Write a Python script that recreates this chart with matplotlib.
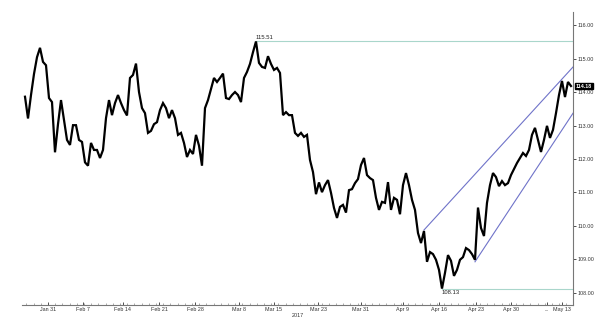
import numpy as np
import matplotlib
matplotlib.use("Agg")
import matplotlib.pyplot as plt
from matplotlib.ticker import FixedLocator, FuncFormatter

# ---- data (USD/JPY-style price, sampled ~10 trading hours apart) ----
prices = [
    113.86, 113.21, 113.91, 114.54, 115.04, 115.32, 114.90, 114.80, 113.82, 113.70,
    112.20, 113.04, 113.76, 113.16, 112.57, 112.42, 113.01, 113.01, 112.57, 112.51,
    111.90, 111.80, 112.48, 112.27, 112.27, 112.03, 112.27, 113.22, 113.76, 113.31,
    113.67, 113.91, 113.67, 113.46, 113.30, 114.42, 114.51, 114.85, 114.00, 113.52,
    113.37, 112.78, 112.84, 113.04, 113.10, 113.46, 113.67, 113.52, 113.22, 113.46,
    113.22, 112.72, 112.78, 112.48, 112.06, 112.27, 112.15, 112.72, 112.40, 111.80,
    113.52, 113.76, 114.09, 114.42, 114.30, 114.42, 114.55, 113.82, 113.79, 113.91,
    114.00, 113.91, 113.70, 114.42, 114.60, 114.84, 115.19, 115.51, 114.87, 114.75,
    114.72, 115.07, 114.84, 114.66, 114.72, 114.57, 113.31, 113.40, 113.31, 113.31,
    112.78, 112.69, 112.78, 112.66, 112.72, 111.97, 111.61, 110.95, 111.30, 111.01,
    111.22, 111.37, 110.99, 110.54, 110.24, 110.57, 110.63, 110.40, 111.07, 111.10,
    111.28, 111.40, 111.82, 112.03, 111.52, 111.43, 111.37, 110.84, 110.48, 110.72,
    110.69, 111.31, 110.48, 110.84, 110.78, 110.35, 111.22, 111.58, 111.22, 110.78,
    110.48, 109.79, 109.49, 109.85, 108.93, 109.22, 109.16, 108.99, 108.69, 108.13,
    108.60, 109.13, 108.96, 108.51, 108.69, 108.99, 109.07, 109.34, 109.28, 109.16,
    108.99, 110.55, 109.94, 109.70, 110.69, 111.22, 111.58, 111.46, 111.19, 111.34,
    111.22, 111.28, 111.52, 111.70, 111.88, 112.03, 112.18, 112.09, 112.27, 112.72,
    112.93, 112.57, 112.21, 112.57, 112.99, 112.63, 112.87, 113.37, 113.91, 114.33,
    113.85, 114.30, 114.18,
]

tick_labels = ["Jan 31", "Feb 7", "Feb 14", "Feb 21", "Feb 28", "Mar 8", "Mar 15",
               "Mar 23", "Mar 31", "Apr 9", "Apr 16", "Apr 23", "Apr 30", "...", "May 13"]
tick_pos = [7.67, 19.4, 32.6, 44.7, 56.7, 71.2, 83.0,
            97.7, 112.0, 126.0, 138.0, 150.3, 162.0, 174.0, 179.0]

high_value = 115.51
high_index = 77
low_value = 108.13
low_index = 139

upper_channel_x = [133, 182.7]
upper_channel_y = [109.88, 114.75]
lower_channel_x = [150, 182.7]
lower_channel_y = [108.93, 113.37]

last_price = 114.18
y_ticks = [108, 109, 110, 111, 112, 113, 114, 115, 116]

# ---- figure ----
plt.rcParams["font.family"] = ["Liberation Sans", "DejaVu Sans"]
fig = plt.figure(figsize=(6.0, 3.31), dpi=100)
ax = fig.add_axes([22 / 600, 26 / 331, 551 / 600, 293 / 331])

x = np.arange(len(prices))
ax.plot(x, prices, color="black", lw=1.6, solid_joinstyle="miter", zorder=3)

xmax = 182.67
ax.set_xlim(-1, xmax)
ax.set_ylim(107.64, 116.39)

# horizontal reference lines
hcol = "#a9d6cb"
ax.plot([high_index, xmax], [high_value, high_value], color=hcol, lw=0.8, zorder=2)
ax.plot([low_index, xmax], [low_value, low_value], color=hcol, lw=0.8, zorder=2)
ax.text(high_index, high_value + 0.04, f"{high_value:.2f}", fontsize=4.2,
        ha="left", va="bottom", color="#222222")
ax.text(low_index, low_value - 0.05, f"{low_value:.2f}", fontsize=4.2,
        ha="left", va="top", color="#222222")

# channel lines
ccol = "#6f73c9"
ax.plot(upper_channel_x, upper_channel_y, color=ccol, lw=0.8, zorder=2)
ax.plot(lower_channel_x, lower_channel_y, color=ccol, lw=0.8, zorder=2)

# spines
for s in ["top", "left"]:
    ax.spines[s].set_visible(False)
for s in ["right", "bottom"]:
    ax.spines[s].set_color("#777777")
    ax.spines[s].set_linewidth(0.8)

# y axis on right
ax.yaxis.tick_right()
ax.set_yticks(y_ticks)
ax.yaxis.set_major_formatter(FuncFormatter(lambda v, p: f"{v:.2f}"))
ax.tick_params(axis="y", which="major", length=2, width=0.6, pad=1,
               labelsize=3.9, colors="#333333")

# x axis
ax.xaxis.set_major_locator(FixedLocator(tick_pos))
ax.set_xticklabels(tick_labels)
ax.xaxis.set_minor_locator(FixedLocator(np.arange(tick_pos[0] - 2.4 * 3, xmax, 2.4)))
ax.tick_params(axis="x", which="major", length=2, width=0.6, direction="in",
               pad=1.5, labelsize=3.9, colors="#333333")
ax.tick_params(axis="x", which="minor", length=1.2, width=0.5, direction="in",
               colors="#888888")
ax.set_xlabel("2017", fontsize=3.9, labelpad=1, color="#333333")

# last price box
ax.annotate(f"{last_price:.2f}", xy=(1.0, last_price), xycoords=("axes fraction", "data"),
            xytext=(2, 0), textcoords="offset points", fontsize=3.9,
            color="white", fontweight="bold", ha="left", va="center",
            bbox=dict(boxstyle="square,pad=0.15", fc="black", ec="black"),
            annotation_clip=False, zorder=5)

fig.savefig("out.png", dpi=100, facecolor="white")
